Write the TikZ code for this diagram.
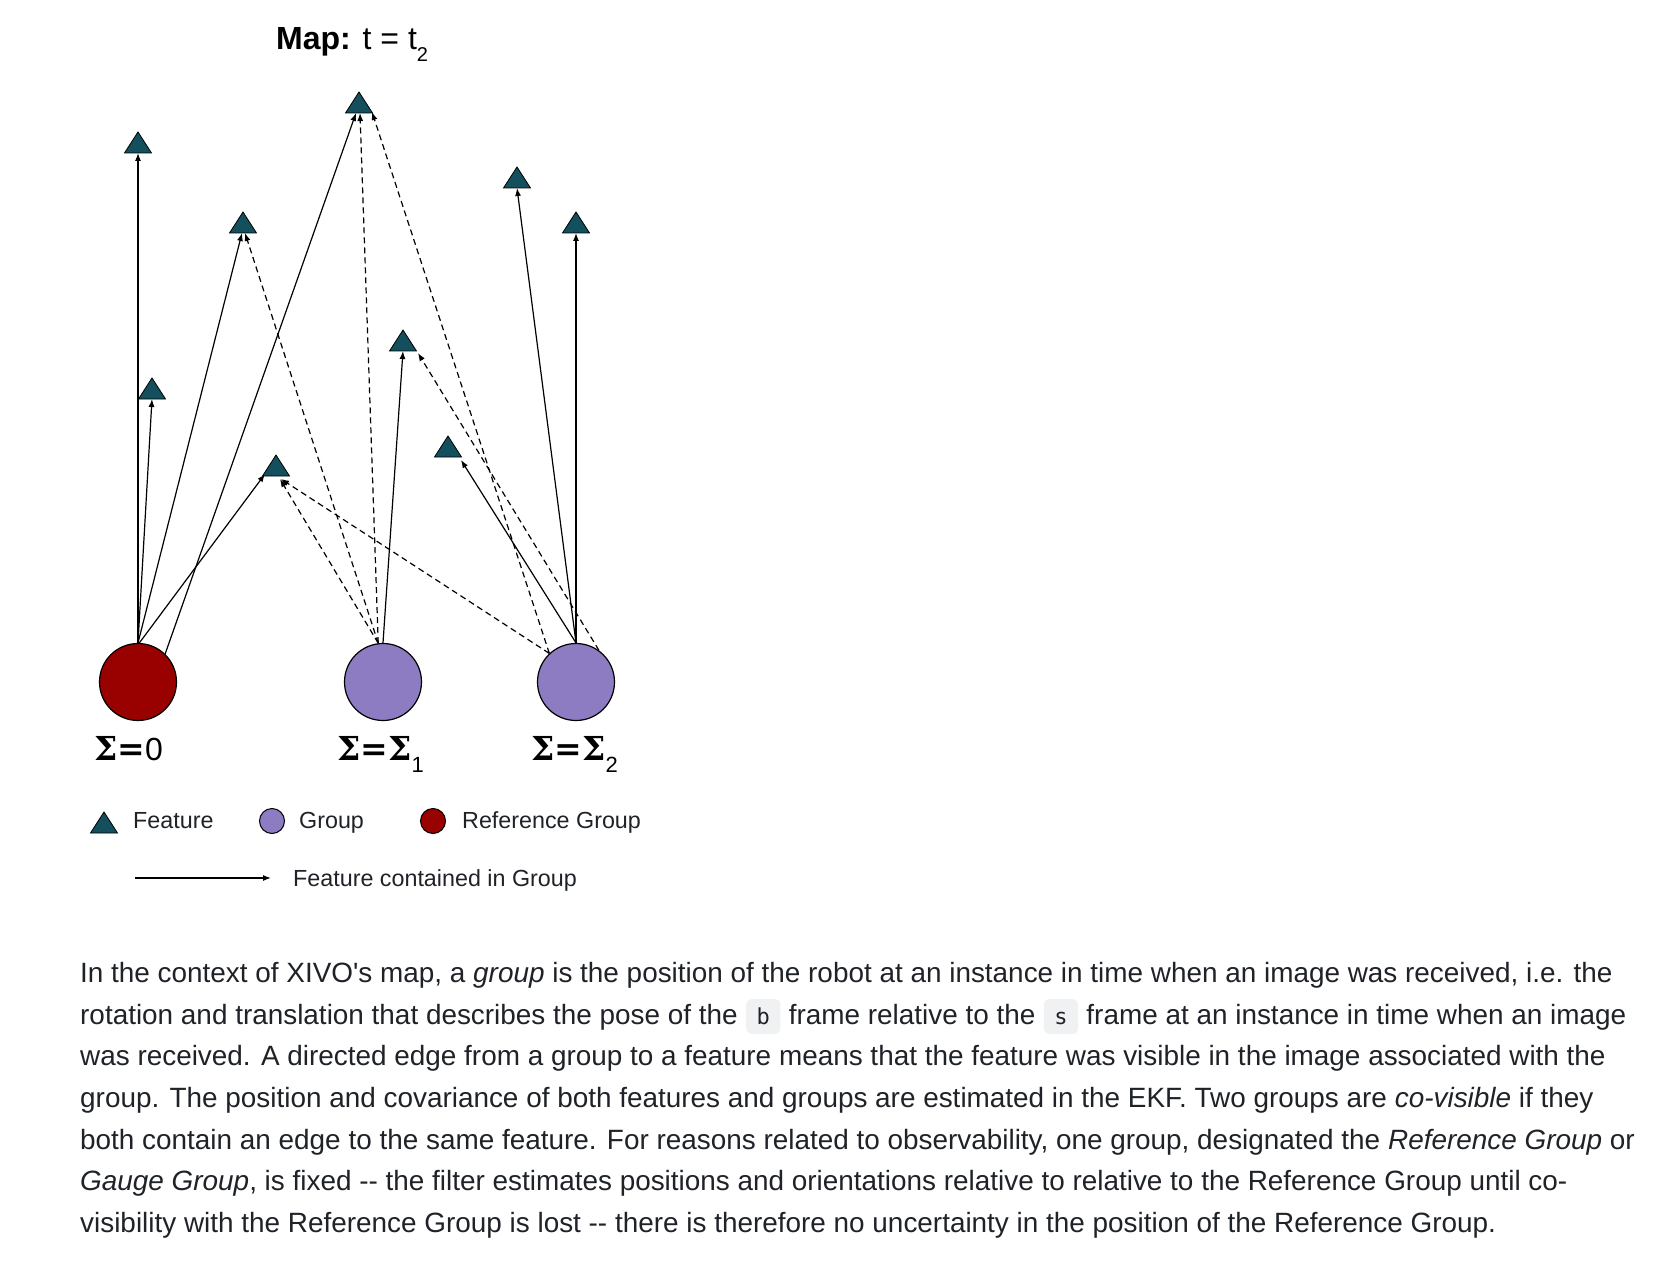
\documentclass[tikz,border=0pt]{standalone}
\usepackage[no-math]{fontspec}
\newfontfamily\pfont{Liberation Sans}
\newfontfamily\mfont{DejaVu Sans Mono}
\newfontfamily\sigfont{DejaVu Serif}
\usetikzlibrary{arrows.meta}
\definecolor{featc}{HTML}{134F5C}
\definecolor{refc}{HTML}{990000}
\definecolor{grpc}{HTML}{8E7CC3}
\definecolor{txtc}{HTML}{1F2328}
\definecolor{codec}{HTML}{EFF1F3}
\newcommand\drawfeat[1]{\draw[feat] ([xshift=-13.5]#1) -- ([xshift=13.5]#1) -- ([yshift=21]#1) -- cycle;}
\begin{document}
\begin{tikzpicture}[x=1pt,y=-1pt,
  feat/.style={fill=featc,draw=black,line width=0.8pt,line join=miter},
  grp/.style={circle,draw=black,line width=1.2pt,fill=grpc,minimum size=77,inner sep=0},
  refg/.style={grp,fill=refc},
  lgrp/.style={grp,minimum size=25,line width=1pt},
  lrefg/.style={lgrp,fill=refc},
  edge/.style={line width=1.2pt,-{Latex[length=8,width=6]}},
  dedge/.style={edge,dash pattern=on 6pt off 4pt},
  para/.style={font={\pfont\fontsize{27.9}{42}\selectfont},text=txtc,inner sep=0,anchor=base west},
  codebox/.style={fill=codec,rounded corners=6,font={\mfont\fontsize{22}{22}\selectfont},text=txtc,
    inner xsep=10.5,inner ysep=7,text height=18,text depth=3,anchor=base west},
  legtext/.style={font={\pfont\fontsize{23.3}{27}\selectfont},text=txtc,inner sep=0,anchor=base west},
  siglab/.style={font={\pfont\fontsize{32}{32}\selectfont},text=black,inner sep=0,anchor=base west},
  titletext/.style={font={\pfont\fontsize{32}{36}\selectfont},text=black,inner sep=0,anchor=base west}
]
\useasboundingbox (0,0) rectangle (1679,1273);
\fill[white] (0,0) rectangle (1679,1273);

% title
\node[titletext] (title) at (276,50) {\bfseries Map:\mdseries{} t = t\raisebox{-12pt}{\fontsize{20}{20}\selectfont 2}};

% groups
\node[refg] (R) at (138,682) {};
\node[grp] (G1) at (383,682) {};
\node[grp] (G2) at (576,682) {};

% feature base points
\coordinate (A) at (138,153);
\coordinate (B) at (359,113);
\coordinate (C) at (243,233);
\coordinate (D) at (517,188);
\coordinate (E) at (576,233);
\coordinate (F) at (403,351);
\coordinate (G) at (152,399);
\coordinate (H) at (448,457);
\coordinate (I) at (276,476);

% solid edges
\draw[edge] (R.90) -- (A);
\draw[edge] (R.90) -- (G);
\draw[edge] (R.90) -- ([xshift=-1]C);
\draw[edge] (R.88) -- ([xshift=-11,yshift=2]I);
\draw[edge] (R.46) -- ([xshift=-3]B);
\draw[edge] (G1.90) -- (F);
\draw[edge] (G2.90) -- (E);
\draw[edge] (G2.90) -- (D);
\draw[edge] (G2.90) -- ([xshift=13,yshift=-3]H);

% dashed edges
\draw[dedge] (G1.97) -- ([xshift=2]C);
\draw[dedge] (G1.97) -- ([xshift=1]B);
\draw[dedge] (G1.97) -- ([xshift=4,yshift=-3]I);
\draw[dedge] (G2.133) -- ([xshift=5,yshift=-3]I);
\draw[dedge] (G2.133) -- ([xshift=13,yshift=1]B);
\draw[dedge] (G2.54) -- ([xshift=15,yshift=-2]F);

% features
\drawfeat{A}
\drawfeat{B}
\drawfeat{C}
\drawfeat{D}
\drawfeat{E}
\drawfeat{F}
\drawfeat{G}
\drawfeat{H}
\drawfeat{I}

% sigma labels
\node[siglab] (s0) at (94,760) {{\sigfont\bfseries\fontsize{33}{33}\selectfont Σ=}0};
\node[siglab] (s1) at (337,760) {{\sigfont\bfseries\fontsize{33}{33}\selectfont Σ=Σ}\raisebox{-12pt}{\fontsize{22}{22}\selectfont 1}};
\node[siglab] (s2) at (531,760) {{\sigfont\bfseries\fontsize{33}{33}\selectfont Σ=Σ}\raisebox{-12pt}{\fontsize{22}{22}\selectfont 2}};

% legend
\coordinate (LF) at (104,833);
\drawfeat{LF}
\node[legtext] (lft) at (133,828) {Feature};
\node[lgrp] (LG) at (272,821) {};
\node[legtext] (lgt) at (299,828) {Group};
\node[lrefg] (LR) at (433,821) {};
\node[legtext] (lrt) at (462,828) {Reference Group};
\coordinate (la1) at (135,878);
\coordinate (la2) at (271,878);
\draw[edge] (la1) -- (la2);
\node[legtext] (lat) at (293,886) {Feature contained in Group};

% paragraph
\node[para] (p1) at (80,982) {In the context of XIVO's map, a \textit{group} is the position of the robot at an instance in time when an image was received, i.e. the};
\node[para] (p2a) at (80,1024) {rotation and translation that describes the pose of the};
\node[codebox] (cb) at ([xshift=8]p2a.base east) {b};
\node[para] (p2b) at ([xshift=8]cb.base east) {frame relative to the};
\node[codebox] (cs) at ([xshift=8]p2b.base east) {s};
\node[para] (p2c) at ([xshift=8]cs.base east) {frame at an instance in time when an image};
\node[para] (p3) at (80,1065.5) {was received. A directed edge from a group to a feature means that the feature was visible in the image associated with the};
\node[para] (p4) at (80,1107) {group. The position and covariance of both features and groups are estimated in the EKF. Two groups are \textit{co-visible} if they};
\node[para] (p5) at (80,1149) {both contain an edge to the same feature. For reasons related to observability, one group, designated the \textit{Reference Group} or};
\node[para] (p6) at (80,1190.5) {\textit{Gauge Group}, is fixed -- the filter estimates positions and orientations relative to relative to the Reference Group until co-};
\node[para] (p7) at (80,1232) {visibility with the Reference Group is lost -- there is therefore no uncertainty in the position of the Reference Group.};
\end{tikzpicture}
\end{document}
